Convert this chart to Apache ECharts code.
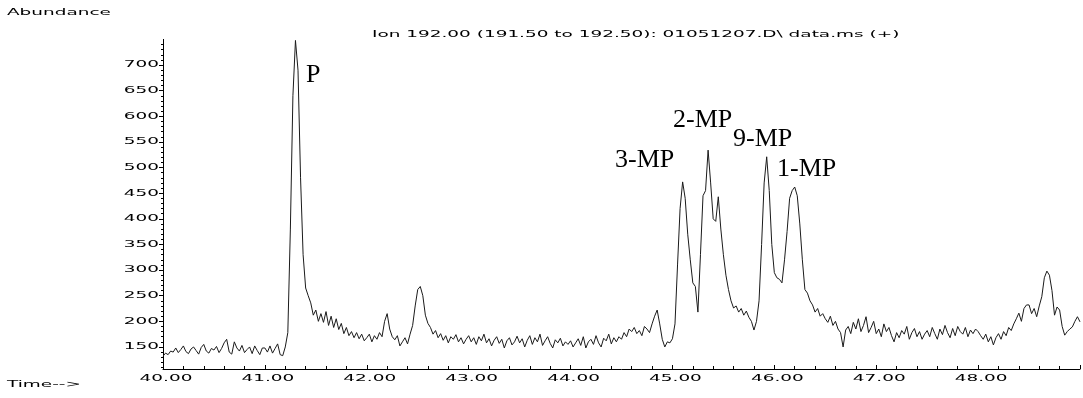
<!DOCTYPE html>
<html>
<head>
<meta charset="utf-8">
<script src="https://cdn.jsdelivr.net/npm/echarts@6/dist/echarts.min.js"></script>
<style>
  html, body { margin: 0; padding: 0; background: #fff; }
  #chart { width: 1083px; height: 398px; }
</style>
</head>
<body>
<div id="chart"></div>
<script>
// scan grid (minutes)
const scanStart = 40.0
const scanStep = 0.025

// abundance, one row = 0.5 min
const abundance = [
  132,138,135,142,140,148,139,145,152,141,137,146,150,143,136,149,155,142,138,147,
  144,151,139,147,158,165,140,136,160,148,142,153,139,145,150,137,152,143,135,148,
  148,140,152,138,147,156,135,133,150,178,380,640,748,690,480,330,265,250,236,212,
  222,200,215,198,219,192,210,188,205,184,196,176,188,172,180,168,178,166,175,162,
  168,175,160,172,165,178,170,200,215,185,170,164,172,152,160,168,156,175,192,230,
  262,268,250,212,196,188,175,182,168,176,163,172,158,170,165,174,160,168,156,165,
  172,160,168,155,170,162,175,158,166,152,163,170,157,165,148,162,168,154,160,171,
  158,166,150,163,172,155,168,160,175,153,162,170,157,148,164,158,167,152,160,155,
  162,150,158,166,153,170,148,160,165,155,172,158,150,167,162,175,156,168,160,170,
  165,178,170,185,180,188,176,182,172,190,185,178,195,210,222,195,165,150,160,158,
  166,195,310,420,472,440,370,320,275,268,218,330,445,455,534,470,400,395,443,380,
  330,290,262,240,226,230,218,225,212,220,208,200,183,200,240,350,470,521,455,350,
  295,285,282,275,320,375,440,455,462,445,390,320,262,255,240,232,218,225,210,215,
  205,198,210,192,200,185,178,150,183,190,176,198,185,205,180,192,209,178,188,200,
  176,185,170,195,180,188,172,160,178,168,182,175,190,165,178,186,170,180,165,175,
  182,170,188,176,165,185,174,192,178,168,186,172,190,180,175,188,170,183,176,185,
  180,172,165,175,160,170,154,168,176,165,180,172,188,182,195,205,216,200,225,232,
  232,215,225,209,230,248,285,298,290,260,212,228,222,190,173,180,185,189,200,209,
  199
]

const xTicks = [40, 41, 42, 43, 44, 45, 46, 47, 48]
const yTicks = [150, 200, 250, 300, 350, 400, 450, 500, 550, 600, 650, 700]
const yMinorTicks = []
for (let v = 110; v <= 740; v += 10) if (v % 50) yMinorTicks.push(v)

const peakNames = ['P', '3-MP', '2-MP', '9-MP', '1-MP']
const titleText = 'Ion 192.00 (191.50 to 192.50): 01051207.D\\ data.ms (+)'

const points = abundance.map((v, i) => [+(scanStart + i * scanStep).toFixed(3), v])

const chart = echarts.init(document.getElementById('chart'), null, { renderer: 'canvas' })

// the instrument font is short and very wide, so stretch a small font sideways
const STRETCH = 2.05
const smallText = (text, x, y, align) => ({
  type: 'text', x: x, y: y, scaleX: STRETCH, scaleY: 1,
  style: { text: text, font: '9px "DejaVu Sans"', fill: '#000', textAlign: align || 'left', textVerticalAlign: 'middle' }
})
const peakText = (text, x, y) => ({
  type: 'text', x: x, y: y,
  style: { text: text, font: '26px "Liberation Serif"', fill: '#000', textVerticalAlign: 'bottom' }
})

const peakPos = [[306, 88], [615, 173], [673, 133], [733, 152], [777, 182]]

chart.setOption({
  animation: false,
  grid: { left: 163, right: 3, top: 39.4, bottom: 29 },
  xAxis: {
    type: 'value', min: 40, max: 49, interval: 1,
    axisLine: { lineStyle: { color: '#000', width: 1 } },
    axisTick: { inside: true, length: 4, lineStyle: { color: '#000' } },
    minorTick: { show: true, splitNumber: 5, length: 3, lineStyle: { color: '#000' } },
    splitLine: { show: false },
    axisLabel: { show: false }
  },
  yAxis: [
    {
      type: 'value', min: 107, max: 750,
      axisLine: { show: true, lineStyle: { color: '#000', width: 1 } },
      axisTick: { show: true, length: 4, customValues: yTicks, lineStyle: { color: '#000' } },
      axisLabel: { show: false },
      splitLine: { show: false }
    },
    {
      type: 'value', min: 107, max: 750, position: 'left',
      axisLine: { show: false },
      axisTick: { show: true, length: 2, customValues: yMinorTicks, lineStyle: { color: '#000' } },
      axisLabel: { show: false },
      splitLine: { show: false }
    }
  ],
  series: [{
    type: 'line', data: points, showSymbol: false, symbol: 'none',
    lineStyle: { color: '#1a1a1a', width: 1 },
    silent: true
  }]
})

// tick labels placed through the axes' own scales
const gridBottom = chart.convertToPixel({ yAxisIndex: 0 }, 107)
const xLabels = xTicks.map(t =>
  smallText(t.toFixed(2), chart.convertToPixel({ xAxisIndex: 0 }, t) + 3, gridBottom + 10, 'center'))
const yLabels = yTicks.map(v =>
  smallText(String(v), 159, chart.convertToPixel({ yAxisIndex: 0 }, v), 'right'))

chart.setOption({
  graphic: [
    smallText('Abundance', 7, 13),
    smallText(titleText, 372, 35),
    smallText('Time-->', 7, 385),
    ...xLabels,
    ...yLabels,
    ...peakNames.map((n, i) => peakText(n, peakPos[i][0], peakPos[i][1]))
  ]
})
</script>
</body>
</html>
